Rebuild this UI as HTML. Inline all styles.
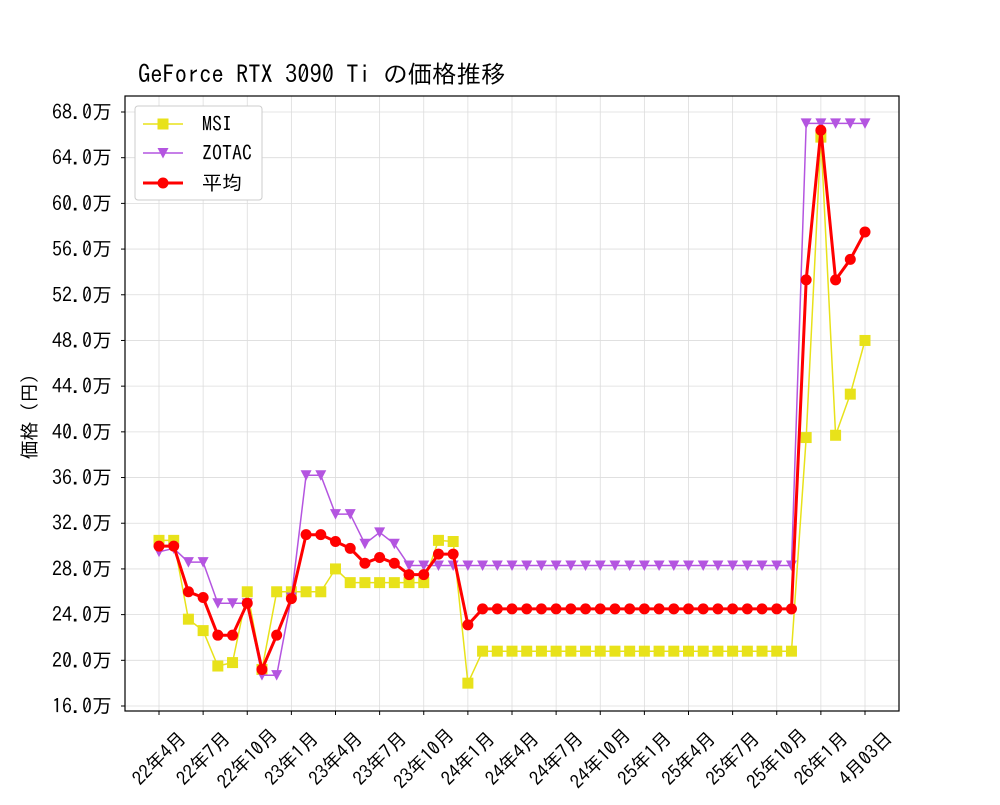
<!DOCTYPE html>
<html><head><meta charset="utf-8"><style>
body{margin:0;background:#fff}
svg text{font-family:"IPAGothic","Noto Sans CJK JP",monospace;fill:#000}
</style></head><body>
<svg id="s" width="1000" height="800" xmlns="http://www.w3.org/2000/svg"></svg>
<script>
const s=document.getElementById('s');let h='';
const L=125,R=899,T=96,B=711;
const X=i=>159+i*706/48, Y=v=>706-(v-16)*(594/52);
h+=`<rect x="${L}" y="${T}" width="${R-L}" height="${B-T}" fill="#fff"/>`;
const xl=['22年4月','22年7月','22年10月','23年1月','23年4月','23年7月','23年10月','24年1月','24年4月','24年7月','24年10月','25年1月','25年4月','25年7月','25年10月','26年1月','4月03日'];
xl.forEach((t,k)=>{const x=k<16?X(k*3):865;
h+=`<line x1="${x}" y1="${T}" x2="${x}" y2="${B}" stroke="#dcdcdc" stroke-width="0.8"/>`;
h+=`<line x1="${x}" y1="${B}" x2="${x}" y2="${B+4}" stroke="#000"/>`;
const half=t.length*0; 
h+=`<text transform="translate(${x},${B+47}) rotate(-45)" text-anchor="middle" dy="7" font-size="19">${t}</text>`;});
for(let v=16;v<=68;v+=4){const y=Y(v);
h+=`<line x1="${L}" y1="${y}" x2="${R}" y2="${y}" stroke="#dcdcdc" stroke-width="0.8"/>`;
h+=`<line x1="${L-4}" y1="${y}" x2="${L}" y2="${y}" stroke="#000"/>`;
h+=`<text x="${L-13}" y="${y+7}" text-anchor="end" font-size="20">${v.toFixed(1)}万</text>`;}
const rep=(v,n)=>Array(n).fill(v);
const msi=[30.5,30.5,23.6,22.6,19.5,19.8,26,19.2,26,26,26,26,28,26.8,26.8,26.8,26.8,26.8,26.8,30.5,30.4,18,...rep(20.8,22),39.5,65.8,39.7,43.3,48];
const zo=[29.5,29.8,28.6,28.6,25,25,25,18.7,18.7,25.5,36.2,36.2,32.8,32.8,30.2,31.2,30.2,28.3,28.3,28.3,28.3,...rep(28.3,23),67,67,67,67,67];
const av=[30,30,26,25.5,22.2,22.2,25,19.2,22.2,25.4,31,31,30.4,29.8,28.5,29,28.5,27.5,27.5,29.3,29.3,23.1,...rep(24.5,22),53.3,66.4,53.3,55.1,57.5];
const pts=a=>a.map((v,i)=>X(i).toFixed(1)+','+Y(v).toFixed(1)).join(' ');
h+=`<polyline points="${pts(msi)}" fill="none" stroke="#e8e21a" stroke-width="1.5"/>`;
msi.forEach((v,i)=>h+=`<rect x="${X(i)-5.5}" y="${Y(v)-5.5}" width="11" height="11" fill="#e8e21a"/>`);
h+=`<polyline points="${pts(zo)}" fill="none" stroke="#b455e0" stroke-width="1.5"/>`;
const tri=(x,y)=>`<polygon points="${x-5.5},${y-5} ${x+5.5},${y-5} ${x},${y+5.5}" fill="#b455e0"/>`;
zo.forEach((v,i)=>h+=tri(X(i),Y(v)));
h+=`<polyline points="${pts(av)}" fill="none" stroke="#f00" stroke-width="3"/>`;
av.forEach((v,i)=>h+=`<circle cx="${X(i)}" cy="${Y(v)}" r="5.5" fill="#f00"/>`);
h+=`<rect x="${L}" y="${T}" width="${R-L}" height="${B-T}" fill="none" stroke="#000" stroke-width="1.2"/>`;
h+=`<text x="138" y="83" font-size="24.5">GeForce RTX 3090 Ti の価格推移</text>`;
h+=`<text transform="translate(36,412) rotate(-90)" text-anchor="middle" font-size="19">価格（円）</text>`;
h+=`<rect x="135" y="106" width="127" height="94" rx="3" fill="#fff" stroke="#ccc"/>`;
h+=`<line x1="143" y1="124" x2="183" y2="124" stroke="#e8e21a" stroke-width="1.5"/><rect x="157.5" y="118.5" width="11" height="11" fill="#e8e21a"/><text x="202" y="131" font-size="20">MSI</text>`;
h+=`<line x1="143" y1="153" x2="183" y2="153" stroke="#b455e0" stroke-width="1.5"/>`+tri(163,153)+`<text x="202" y="160" font-size="20">ZOTAC</text>`;
h+=`<line x1="143" y1="183" x2="183" y2="183" stroke="#f00" stroke-width="3"/><circle cx="163" cy="183" r="5.5" fill="#f00"/><text x="202" y="190" font-size="20">平均</text>`;
s.innerHTML=h;
</script>
</body></html>
